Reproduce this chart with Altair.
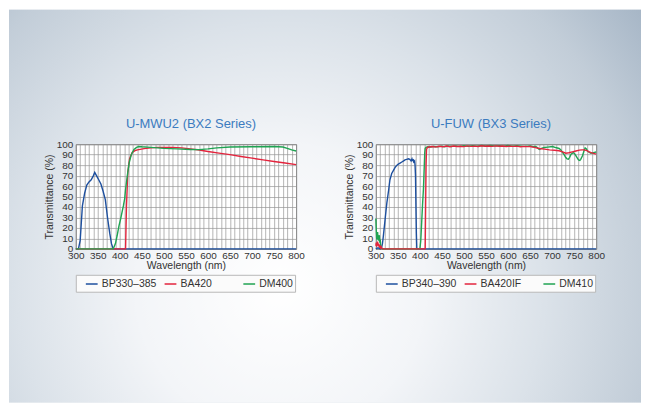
import altair as alt
import pandas as pd

# ---------------- data ----------------
# Panel 1: U-MWU2 (BX2 Series)
p1_names = ["BP330–385", "BA420", "DM400"]
p1_colors = ["#1d4f9e", "#e3243d", "#1fa352"]

blue1_x = [300, 306, 310, 315, 320, 325, 330, 335, 340, 343, 347, 352, 357, 362, 367, 372, 377, 381, 385, 800]
blue1_y = [0, 0, 8, 41, 53, 61, 64, 66, 70, 73, 70, 66, 62, 55, 47, 30, 15, 5, 0, 0]

red1_x = [300, 413, 415, 418, 422, 428, 435, 440, 455, 470, 485, 500, 520, 540, 560, 580, 600, 625, 650, 675, 700, 725, 750, 775, 800]
red1_y = [0, 0, 40, 73, 86, 92, 94, 94.6, 95.8, 96.5, 97, 97, 97, 96.5, 95.5, 94.5, 93, 91.5, 90, 88.3, 86.7, 85, 83.5, 82, 80.5]

green1_x = [300, 385, 390, 394, 398, 402, 405, 408, 411, 413, 417, 421, 426, 432, 438, 443, 450, 470, 500, 530, 560, 580, 600, 620, 650, 700, 750, 770, 780, 790, 800]
green1_y = [0, 0, 5, 13, 22, 29, 35, 41, 48, 57, 70, 82, 90, 95, 97, 97.8, 97.5, 97, 96, 95.5, 95, 94.8, 95.5, 96.5, 97.3, 97.5, 97.8, 97.3, 96, 94.5, 93.5]

# Panel 2: U-FUW (BX3 Series)
p2_names = ["BP340–390", "BA420IF", "DM410"]
p2_colors = ["#1d4f9e", "#e3243d", "#1fa352"]

blue2_x = [300, 305, 310, 313, 315, 317, 319, 321, 323, 325, 327, 329, 332, 336, 340, 344, 348, 351, 355, 359, 363, 366, 370, 374, 377, 380, 382, 383, 385, 386, 388, 389, 390, 391, 392, 393, 800]
blue2_y = [0, 1, 0, 1, 5, 12, 20, 28, 36, 44, 50, 56, 66, 72, 75, 78, 80, 81, 82, 83, 84, 85, 85.5, 86, 85.5, 84, 86, 84.5, 85, 83, 84, 80, 70, 41, 15, 0, 0]

red2_x = [300, 301, 302, 303, 304, 305, 306, 307, 308, 309, 310, 311, 312, 314, 316, 412, 413, 414, 415, 417, 420, 428, 436, 444, 452, 460, 468, 476, 484, 492, 500, 508, 516, 524, 532, 540, 548, 556, 564, 572, 580, 588, 596, 604, 612, 620, 628, 636, 644, 650, 660, 671, 683, 694, 705, 716, 724, 731, 738, 746, 754, 762, 768, 773, 779, 784, 792, 800]
red2_y = [3, 6, 2, 5, 7, 3, 5, 2, 4, 1, 3, 1, 2, 0.5, 0, 0, 40, 80, 95, 96.8, 97.3, 97.8, 97.2, 98, 97.5, 98.2, 97.6, 98.3, 97.8, 98.1, 97.7, 98.4, 97.9, 98.2, 97.8, 98.5, 98, 98.3, 97.9, 98.4, 98.1, 98.3, 97.8, 98.2, 97.9, 98.1, 97.6, 97.9, 97.7, 97.8, 97, 95.9, 95.3, 94.6, 94.2, 93.7, 92.6, 91.4, 91.8, 92.7, 93.5, 94.3, 94.6, 94.6, 93.8, 92.7, 91.5, 90.5]

green2_x = [300, 301, 302, 303, 304, 305, 306, 307, 308, 309, 310, 311, 312, 314, 400, 402, 404, 406, 408, 410, 411, 412, 414, 418, 425, 432, 440, 448, 456, 464, 472, 480, 490, 500, 510, 520, 530, 540, 550, 560, 570, 580, 590, 600, 610, 620, 630, 640, 650, 657, 663, 667, 671, 676, 682, 690, 701, 708, 716, 720, 724, 728, 731, 734, 737, 740, 743, 748, 751, 754, 757, 760, 763, 765, 769, 772, 775, 778, 780, 784, 788, 794, 800]
green2_y = [29, 18, 9, 12, 16, 10, 8, 11, 13, 6, 9, 3, 1, 0, 0, 8, 25, 42, 57, 80, 92, 96, 97, 97.5, 97.2, 97.9, 97.4, 98.1, 97.6, 98.3, 97.8, 98.4, 97.9, 98.5, 98.1, 98.6, 98.2, 98.7, 98.3, 98.8, 98.4, 98.6, 98.2, 98.7, 98.1, 98.5, 98, 97.9, 98.3, 97.6, 97.8, 96.5, 95, 96, 96.8, 97.2, 97.8, 96.8, 95.9, 94.5, 92, 89.5, 87.3, 86, 85.7, 87.5, 90.5, 92, 91, 89, 87, 85, 84.5, 85.5, 89, 93, 96.5, 95.5, 93.6, 92.5, 91.4, 92, 92.5]

x_ticks = list(range(300, 801, 10))
y_ticks = list(range(0, 101, 10))

FONT = "Liberation Sans Narrow, Arial Narrow, Liberation Sans, sans-serif"
TITLE_FONT = "Liberation Sans, Arial, sans-serif"


def series(name, xs, ys):
    return pd.DataFrame({"nm": xs, "T": ys, "filter": [name] * len(xs)})


def panel(title, names, colors, data, order):
    cscale = alt.Scale(domain=names, range=colors)
    layers = []
    for i in order:
        layers.append(
            alt.Chart(data[i]).mark_line(strokeWidth=1.4, interpolate="linear").encode(
                x=alt.X("nm:Q", scale=alt.Scale(domain=[300, 800], nice=False),
                        axis=alt.Axis(values=x_ticks, title="Wavelength (nm)",
                                      labelExpr="datum.value % 50 == 0 ? datum.label : ''",
                                      labelFlush=False, labelOverlap=False,
                                      labelPadding=2, titlePadding=0)),
                y=alt.Y("T:Q", scale=alt.Scale(domain=[0, 100], nice=False),
                        axis=alt.Axis(values=y_ticks, title="Transmittance (%)",
                                      labelOverlap=False, labelPadding=3, titlePadding=2)),
                color=alt.Color("filter:N", scale=cscale,
                                legend=alt.Legend(title=None, orient="none", legendX=0, legendY=131,
                                                  direction="horizontal", columns=3)),
            )
        )
    return alt.layer(*layers).properties(
        width=221, height=105,
        title=alt.TitleParams(title, fontSize=13, font=TITLE_FONT, fontWeight="normal",
                              color="#3b7bbf", anchor="middle", frame="group", offset=8, dx=5),
    )


p1_data = [series(p1_names[0], blue1_x, blue1_y),
           series(p1_names[1], red1_x, red1_y),
           series(p1_names[2], green1_x, green1_y)]
p2_data = [series(p2_names[0], blue2_x, blue2_y),
           series(p2_names[1], red2_x, red2_y),
           series(p2_names[2], green2_x, green2_y)]

left = panel("U-MWU2 (BX2 Series)", p1_names, p1_colors, p1_data, [0, 1, 2])
right = panel("U-FUW (BX3 Series)", p2_names, p2_colors, p2_data, [0, 2, 1])

# background (decoration only): a tiny cell above the panels whose rect spans the page
bg = alt.Chart(pd.DataFrame({"k": [0]})).mark_rect(
    fill={"gradient": "radial", "x1": 0.43, "y1": 0.63, "r1": 0,
          "x2": 0.43, "y2": 0.63, "r2": 0.76,
          "stops": [{"offset": 0, "color": "#ffffff"},
                    {"offset": 0.3, "color": "#f3f5f8"},
                    {"offset": 0.55, "color": "#dbe2e9"},
                    {"offset": 0.78, "color": "#c2cdd8"},
                    {"offset": 1, "color": "#9eafc1"}]},
    strokeWidth=0,
).encode(
    x=alt.value(-67), x2=alt.value(567), y=alt.value(-114), y2=alt.value(280)
).properties(width=1, height=1)

panels = alt.hconcat(left, right, spacing=80, bounds="flush").resolve_scale(color="independent")

chart = alt.vconcat(bg, panels, spacing=20, bounds="flush").properties(
    padding=0, autosize=alt.AutoSizeParams(type="pad")
).configure_view(
    fill="#ffffff", stroke="#7d7d7d", strokeWidth=1
).configure_axis(
    grid=True, gridColor="#959595", gridWidth=0.7, ticks=False, domain=False,
    labelFont=FONT, labelFontSize=10, labelColor="#333333",
    titleFont=FONT, titleFontSize=10.5, titleFontWeight="normal", titleColor="#333333",
).configure_legend(
    padding=2, strokeColor="#b8b8b8", fillColor="#fbfbfb",
    symbolType="stroke", symbolStrokeWidth=1.5, symbolSize=140,
    labelFont=FONT, labelFontSize=10.5, labelColor="#333333", labelOffset=3,
    gridAlign="all", columnPadding=0, symbolOffset=7,
)

chart.save("out.html", embed_options={"renderer": "svg", "actions": False})
